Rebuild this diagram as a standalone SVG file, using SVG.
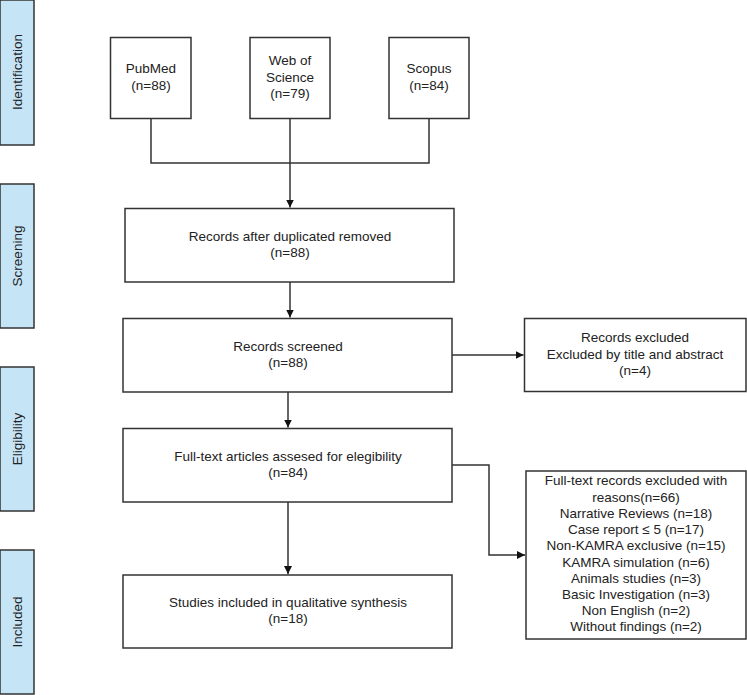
<svg xmlns="http://www.w3.org/2000/svg" width="747" height="695" viewBox="0 0 747 695">
<style>
.box{fill:#fff;stroke:#333;stroke-width:1.5}
.phase{fill:#c5e4f6;stroke:#333;stroke-width:1.5}
text{font-family:"Liberation Sans",Arial,sans-serif;font-size:13.5px;fill:#222;text-anchor:middle}
.con{fill:none;stroke:#333;stroke-width:1.5}
</style>
<defs>
<marker id="ah" viewBox="0 0 10 10" refX="10" refY="5" markerWidth="8" markerHeight="8" markerUnits="userSpaceOnUse" orient="auto">
<path d="M0,0 L10,5 L0,10 z" fill="#111"/>
</marker>
</defs>
<g id="phase-identification"><rect class="phase" x="0" y="0" width="34" height="145"/><text transform="translate(21.5,72) rotate(-90)">Identification</text></g>
<g id="phase-screening"><rect class="phase" x="0" y="184" width="34" height="144"/><text transform="translate(21.5,256) rotate(-90)">Screening</text></g>
<g id="phase-eligibility"><rect class="phase" x="0" y="367" width="34" height="144"/><text transform="translate(21.5,439) rotate(-90)">Eligibility</text></g>
<g id="phase-included"><rect class="phase" x="0" y="550" width="34" height="144"/><text transform="translate(21.5,622) rotate(-90)">Included</text></g>

<g id="pubmed"><rect class="box" x="110.5" y="37.5" width="80.5" height="81"/><text x="151" y="73">PubMed</text><text x="151" y="89.5">(n=88)</text></g>
<g id="wos"><rect class="box" x="250" y="37.5" width="80" height="81"/><text x="290" y="65">Web of</text><text x="290" y="81.5">Science</text><text x="290" y="98">(n=79)</text></g>
<g id="scopus"><rect class="box" x="389" y="37.5" width="80" height="81"/><text x="429" y="73">Scopus</text><text x="429" y="89.5">(n=84)</text></g>

<g id="dedup"><rect class="box" x="125" y="208.5" width="329" height="73.5"/><text x="290" y="240.5">Records after duplicated removed</text><text x="290" y="257">(n=88)</text></g>
<g id="screened"><rect class="box" x="123" y="318.5" width="329" height="73.5"/><text x="288" y="350.5">Records screened</text><text x="288" y="367">(n=88)</text></g>
<g id="excluded1"><rect class="box" x="524.5" y="318.5" width="221.5" height="73"/><text x="635" y="342">Records excluded</text><text x="635" y="358.5">Excluded by title and abstract</text><text x="635" y="375">(n=4)</text></g>
<g id="fulltext"><rect class="box" x="123" y="428.5" width="329" height="73.5"/><text x="288" y="460.5">Full-text articles assesed for elegibility</text><text x="288" y="477">(n=84)</text></g>
<g id="excluded2"><rect class="box" x="526" y="471" width="220" height="168"/>
<text x="636" y="485">Full-text records excluded with</text>
<text x="636" y="501.5">reasons(n=66)</text>
<text x="636" y="518">Narrative Reviews (n=18)</text>
<text x="636" y="534">Case report ≤ 5 (n=17)</text>
<text x="636" y="550">Non-KAMRA exclusive (n=15)</text>
<text x="636" y="566.5">KAMRA simulation (n=6)</text>
<text x="636" y="582.5">Animals studies (n=3)</text>
<text x="636" y="599">Basic Investigation (n=3)</text>
<text x="636" y="615">Non English (n=2)</text>
<text x="636" y="631">Without findings (n=2)</text>
</g>
<g id="included"><rect class="box" x="123" y="575" width="329" height="73"/><text x="288" y="606.5">Studies included in qualitative synthesis</text><text x="288" y="623">(n=18)</text></g>

<g id="connectors">
<polyline class="con" points="151,118.5 151,163 429,163 429,118.5"/>
<line class="con" x1="290" y1="118.5" x2="290" y2="207.5" marker-end="url(#ah)"/>
<line class="con" x1="290" y1="282" x2="290" y2="317.5" marker-end="url(#ah)"/>
<line class="con" x1="452" y1="355" x2="523.5" y2="355" marker-end="url(#ah)"/>
<line class="con" x1="288" y1="392" x2="288" y2="427.5" marker-end="url(#ah)"/>
<polyline class="con" points="452,465 489,465 489,555 525,555" marker-end="url(#ah)"/>
<line class="con" x1="288" y1="502" x2="288" y2="574" marker-end="url(#ah)"/>
</g>
</svg>
